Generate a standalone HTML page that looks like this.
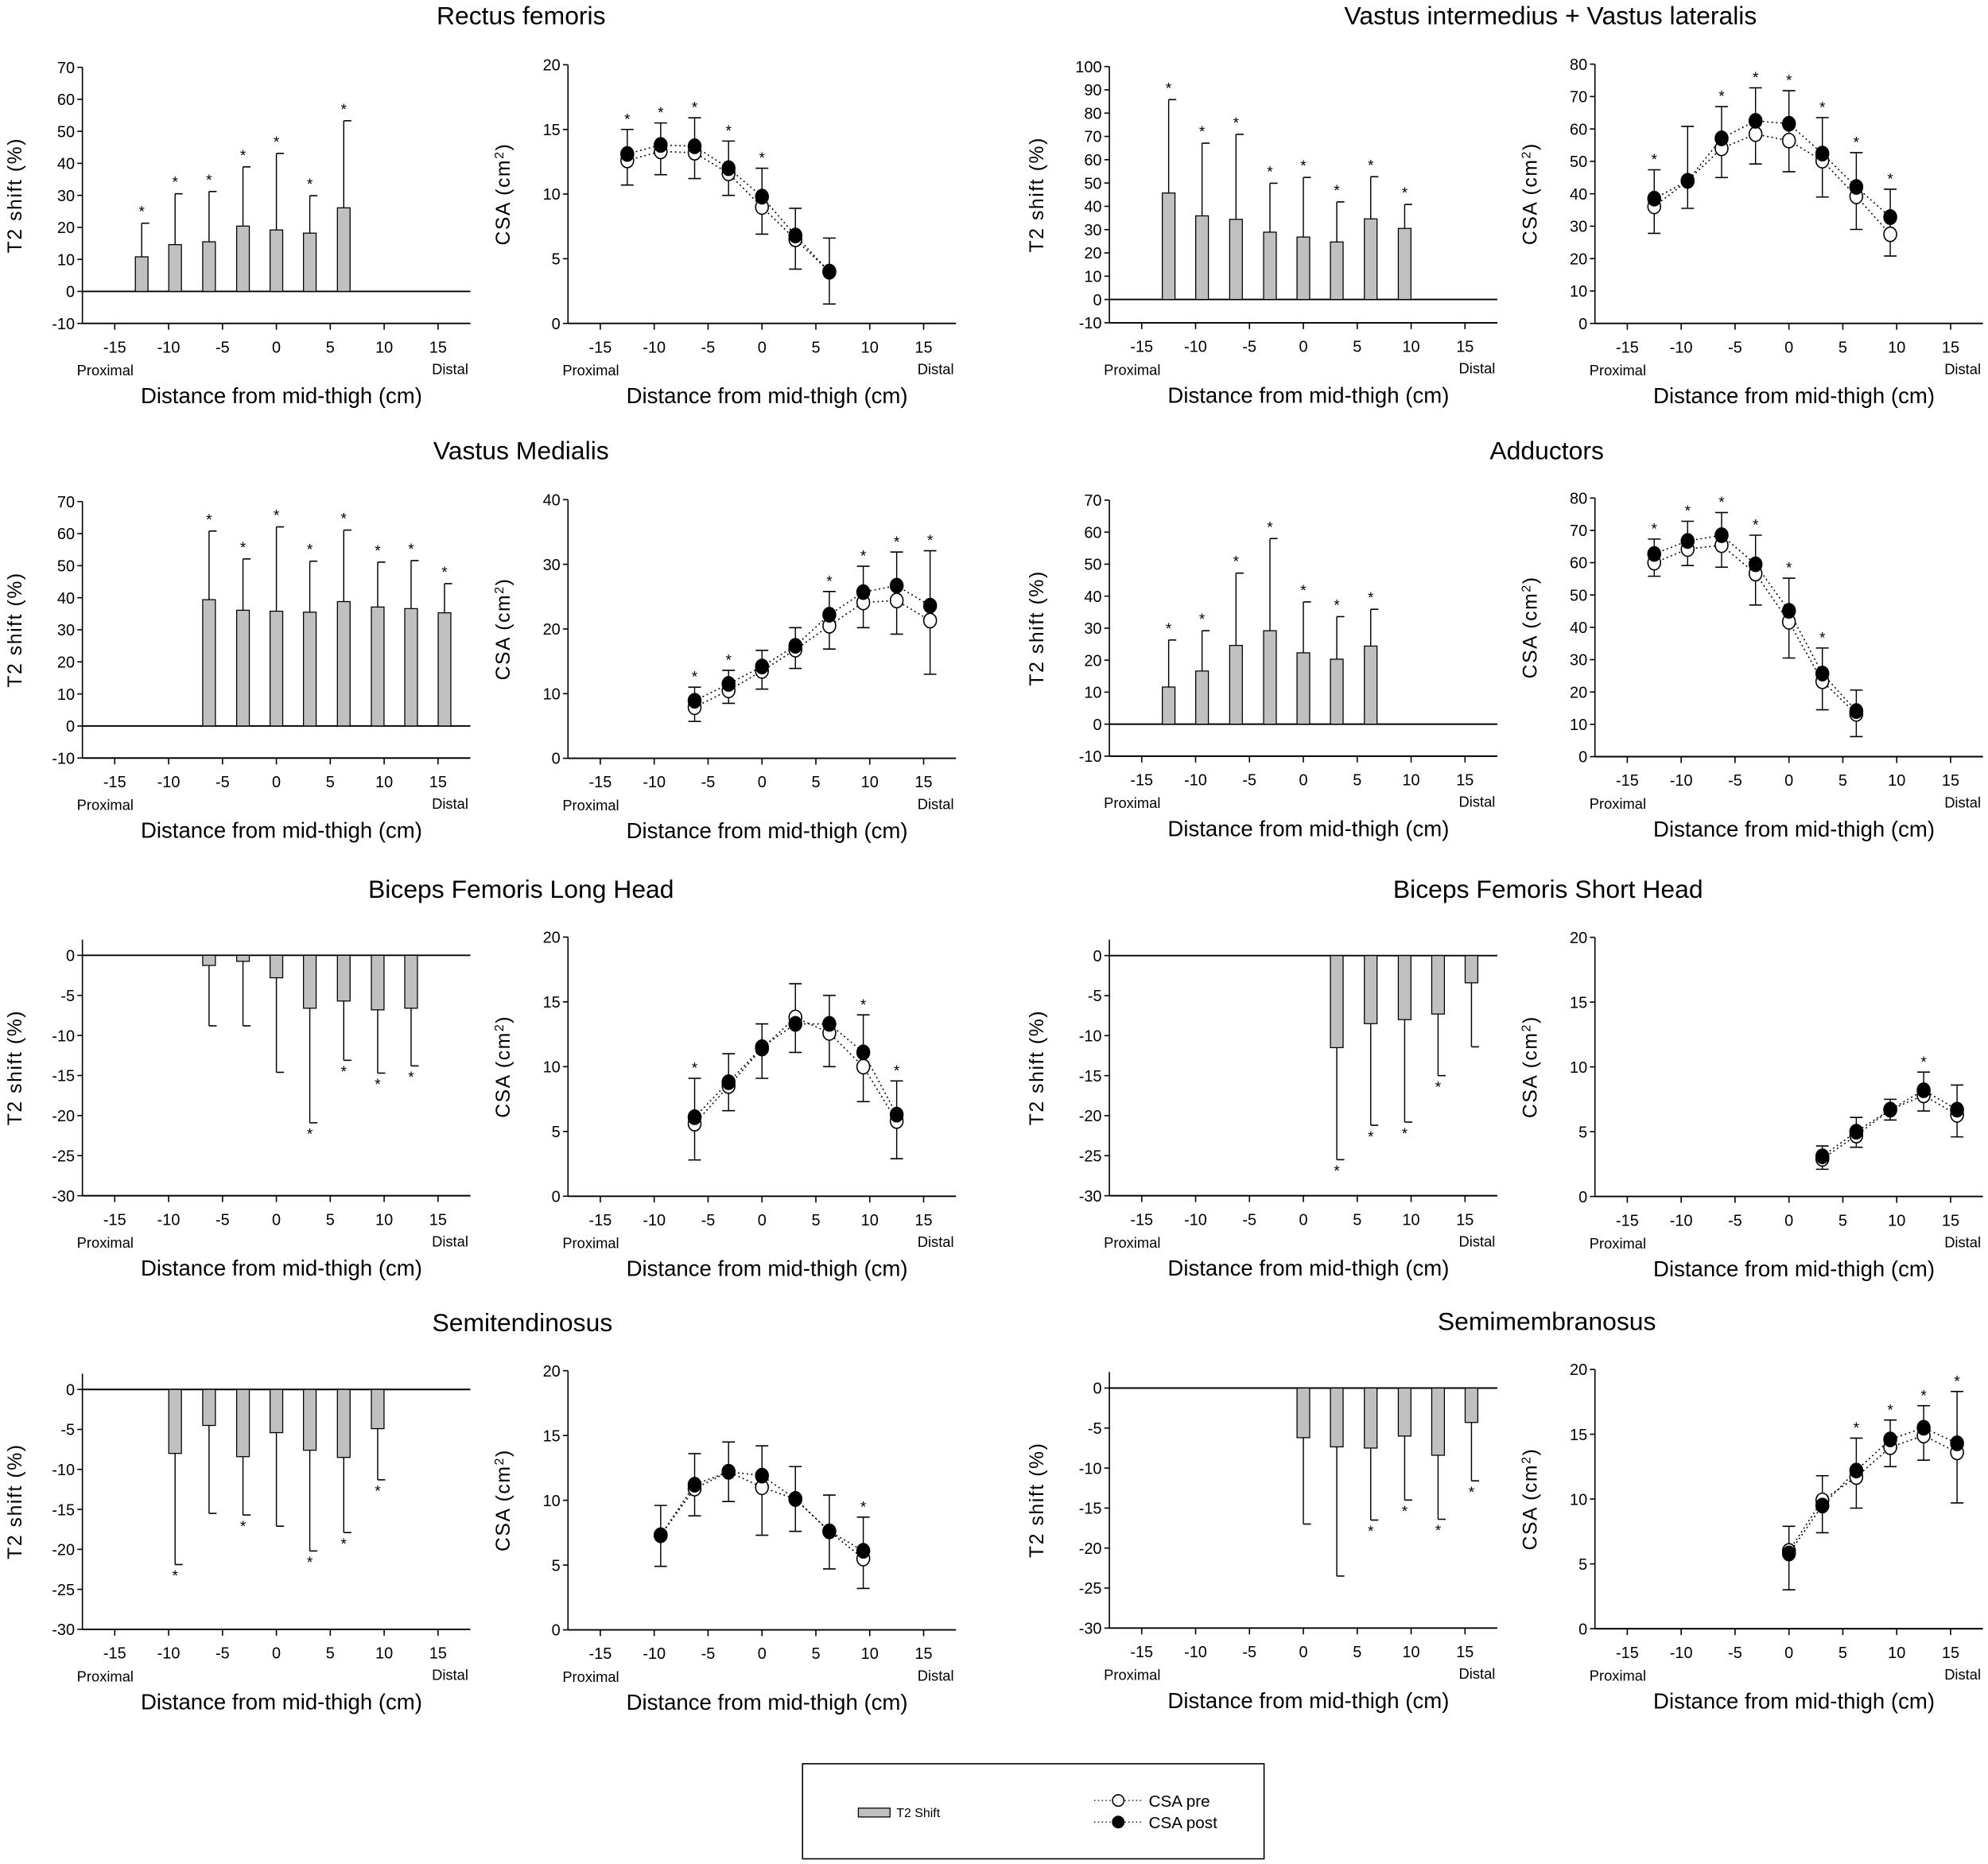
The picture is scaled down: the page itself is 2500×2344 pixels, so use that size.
<!DOCTYPE html>
<html><head><meta charset="utf-8">
<style>
html,body{margin:0;padding:0;background:#fff;}
svg{display:block;}
text{font-family:"Liberation Sans",Arial,sans-serif;fill:#000;}
</style></head>
<body>
<svg id="fig" xmlns="http://www.w3.org/2000/svg" width="2500" height="2344" viewBox="0 0 1568 1470">
<rect x="0" y="0" width="1568" height="1470" fill="#fff"/>
<g>
<rect x="633" y="1391" width="364" height="75" fill="none" stroke="#000" stroke-width="1"/>
<rect x="677" y="1426" width="25" height="7" fill="#c0c0c0" stroke="#000" stroke-width="0.8"/>
<text x="707" y="1433" font-size="10">T2 Shift</text>
<line x1="863" y1="1420" x2="900" y2="1420" stroke="#000" stroke-width="0.8" stroke-dasharray="1,2"/>
<circle cx="882" cy="1420" r="4.5" fill="#fff" stroke="#000"/>
<text x="906" y="1425" font-size="13">CSA pre</text>
<line x1="863" y1="1437" x2="900" y2="1437" stroke="#000" stroke-width="0.8" stroke-dasharray="1,2"/>
<circle cx="882" cy="1437" r="4.5" fill="#000" stroke="#000"/>
<text x="906" y="1442" font-size="13">CSA post</text>
</g>
</svg>
<script>
// ---------- data (distance from mid-thigh, cm) ----------
const xTickLabels = [-15,-10,-5,0,5,10,15];

// Rectus femoris
const rfT2X = [-12.5,-9.4,-6.25,-3.1,0,3.1,6.25];
const rfT2Val = [10.8,14.6,15.5,20.4,19.2,18.2,26.1];
const rfT2Err = [21.3,30.5,31.2,38.9,43.1,29.9,53.3];
const rfT2Star = [1,1,1,1,1,1,1];
const rfCsaX = [-12.5,-9.4,-6.25,-3.1,0,3.1,6.25];
const rfCsaPre = [12.6,13.3,13.2,11.6,9.0,6.5,4.0];
const rfCsaPost = [13.1,13.8,13.7,12.0,9.8,6.8,4.0];
const rfCsaHi = [15.0,15.5,15.9,14.1,12.0,8.9,6.6];
const rfCsaLo = [10.7,11.5,11.2,9.9,6.9,4.2,1.5];
const rfCsaStar = [1,1,1,1,1,0,0];

// Vastus intermedius + lateralis
const viT2X = [-12.5,-9.4,-6.25,-3.1,0,3.1,6.25,9.4];
const viT2Val = [45.7,35.9,34.4,28.9,26.8,24.7,34.6,30.5];
const viT2Err = [85.8,67.1,70.9,49.9,52.4,41.9,52.7,40.8];
const viT2Star = [1,1,1,1,1,1,1,1];
const viCsaX = [-12.5,-9.4,-6.25,-3.1,0,3.1,6.25,9.4];
const viCsaPre = [36.1,44.0,54.0,58.4,56.4,50.2,39.2,27.5];
const viCsaPost = [38.5,44.0,57.1,62.5,61.6,52.4,42.1,32.8];
const viCsaHi = [47.4,60.8,66.9,72.7,71.8,63.5,52.7,41.4];
const viCsaLo = [27.8,35.5,45.0,49.2,46.8,39.0,29.0,20.8];
const viCsaStar = [1,0,1,1,1,1,1,1];

// Vastus medialis
const vmT2X = [-6.25,-3.1,0,3.1,6.25,9.4,12.5,15.6];
const vmT2Val = [39.4,36.1,35.8,35.5,38.8,37.1,36.6,35.3];
const vmT2Err = [60.8,52.1,62.1,51.4,61.1,51.1,51.6,44.4];
const vmT2Star = [1,1,1,1,1,1,1,1];
const vmCsaX = [-6.25,-3.1,0,3.1,6.25,9.4,12.5,15.6];
const vmCsaPre = [7.9,10.5,13.5,16.8,20.5,24.1,24.4,21.3];
const vmCsaPost = [8.9,11.5,14.2,17.4,22.2,25.7,26.7,23.6];
const vmCsaHi = [11.0,13.6,16.7,20.2,25.8,29.7,31.9,32.1];
const vmCsaLo = [5.7,8.5,10.7,13.9,16.9,20.2,19.2,13.0];
const vmCsaStar = [1,1,0,0,1,1,1,1];

// Adductors
const adT2X = [-12.5,-9.4,-6.25,-3.1,0,3.1,6.25];
const adT2Val = [11.6,16.6,24.6,29.2,22.3,20.3,24.4];
const adT2Err = [26.3,29.2,47.2,58.0,38.2,33.6,35.9];
const adT2Star = [1,1,1,1,1,1,1];
const adCsaX = [-12.5,-9.4,-6.25,-3.1,0,3.1,6.25];
const adCsaPre = [60.0,64.2,65.4,56.6,41.7,23.3,13.2];
const adCsaPost = [62.7,66.7,68.5,59.5,45.1,25.7,14.1];
const adCsaHi = [67.3,72.8,75.5,68.5,55.2,33.6,20.6];
const adCsaLo = [55.8,59.1,58.6,46.9,30.5,14.5,6.2];
const adCsaStar = [1,1,1,1,1,1,0];

// Biceps femoris long head
const blT2X = [-6.25,-3.1,0,3.1,6.25,9.4,12.5];
const blT2Val = [-1.26,-0.75,-2.8,-6.6,-5.7,-6.8,-6.6];
const blT2Err = [-8.8,-8.8,-14.6,-20.9,-13.1,-14.7,-13.8];
const blT2Star = [0,0,0,1,1,1,1];
const blCsaX = [-6.25,-3.1,0,3.1,6.25,9.4,12.5];
const blCsaPre = [5.6,8.5,11.4,13.8,12.6,10.0,5.8];
const blCsaPost = [6.1,8.8,11.5,13.3,13.3,11.1,6.3];
const blCsaHi = [9.1,11.0,13.3,16.4,15.5,14.0,8.9];
const blCsaLo = [2.8,6.6,9.1,11.1,10.0,7.3,2.9];
const blCsaStar = [1,0,0,0,0,1,1];

// Biceps femoris short head
const bsT2X = [3.1,6.25,9.4,12.5,15.6];
const bsT2Val = [-11.5,-8.5,-8.0,-7.3,-3.4];
const bsT2Err = [-25.5,-21.2,-20.8,-15.0,-11.4];
const bsT2Star = [1,1,1,1,0];
const bsCsaX = [3.1,6.25,9.4,12.5,15.6];
const bsCsaPre = [2.9,4.7,6.7,7.8,6.3];
const bsCsaPost = [3.1,5.0,6.7,8.2,6.7];
const bsCsaHi = [3.9,6.1,7.5,9.6,8.6];
const bsCsaLo = [2.1,3.8,5.9,6.6,4.6];
const bsCsaStar = [0,0,0,1,0];

// Semitendinosus
const stT2X = [-9.4,-6.25,-3.1,0,3.1,6.25,9.4];
const stT2Val = [-8.0,-4.5,-8.4,-5.4,-7.6,-8.5,-4.9];
const stT2Err = [-21.9,-15.5,-15.7,-17.1,-20.2,-17.9,-11.3];
const stT2Star = [1,0,1,0,1,1,1];
const stCsaX = [-9.4,-6.25,-3.1,0,3.1,6.25,9.4];
const stCsaPre = [7.3,10.9,12.2,11.0,10.1,7.6,5.5];
const stCsaPost = [7.3,11.2,12.2,11.9,10.1,7.6,6.1];
const stCsaHi = [9.6,13.6,14.5,14.2,12.6,10.4,8.7];
const stCsaLo = [4.9,8.8,9.9,7.3,7.6,4.7,3.2];
const stCsaStar = [0,0,0,0,0,0,1];

// Semimembranosus
const smT2X = [0,3.1,6.25,9.4,12.5,15.6];
const smT2Val = [-6.2,-7.35,-7.5,-6.0,-8.4,-4.3];
const smT2Err = [-17.0,-23.5,-16.5,-14.0,-16.4,-11.6];
const smT2Star = [0,0,1,1,1,1];
const smCsaX = [0,3.1,6.25,9.4,12.5,15.6];
const smCsaPre = [6.0,9.9,11.7,14.0,14.9,13.6];
const smCsaPost = [5.8,9.5,12.2,14.6,15.5,14.3];
const smCsaHi = [7.9,11.8,14.7,16.1,17.2,18.3];
const smCsaLo = [3.0,7.4,9.3,12.5,13.0,9.7];
const smCsaStar = [0,0,1,1,1,1];

// ---------- drawing ----------
const NS = "http://www.w3.org/2000/svg";
const svg = document.getElementById("fig");
function mk(tag, parent, attrs){
  const e = document.createElementNS(NS, tag);
  for (const k in attrs) e.setAttribute(k, attrs[k]);
  parent.appendChild(e);
  return e;
}
function txt(parent, x, y, s, size, anchor){
  const t = mk("text", parent, {x:x, y:y, "font-size":size, "text-anchor":anchor||"middle"});
  t.textContent = s;
  return t;
}
function xScale(xL, xR){ return v => xL + (v + 18) * (xR - xL) / 36; }
function yScale(vMin, vMax, pBot, pTop){ return v => pBot - (v - vMin) * (pBot - pTop) / (vMax - vMin); }

function axes(g, sx, sy, xL, xR, yMin, yMax, yTop, yTickVals, yLabelX, isCsa){
  const yb = sy(yMin);
  const ya = mk("line", g, {x1:xL, y1:yTop, x2:xL, y2:yb, stroke:"#000", "stroke-width":1});
  
  
  const xa = mk("line", g, {x1:xL, y1:yb, x2:xR, y2:yb, stroke:"#000", "stroke-width":1.2});
  
  
  yTickVals.forEach(v => {
    const py = sy(v);
    mk("line", g, {x1:xL-4, y1:py, x2:xL, y2:py, stroke:"#000", "stroke-width":1});
    const t = txt(g, xL-6, py+4.5, String(v), 12.5, "end");
    
    
  });
  xTickLabels.forEach(v => {
    const px = sx(v);
    mk("line", g, {x1:px, y1:yb, x2:px, y2:yb+5, stroke:"#000", "stroke-width":1});
    const t = txt(g, px, yb+23, String(v), 12.5);
    
    
  });
  const p = txt(g, xL+18, yb+41, "Proximal", 11.5);
  
  
  const d = txt(g, xR-16, yb+40, "Distal", 11.5);
  
  
  const xt = txt(g, (xL+xR)/2+4, yb+63, "Distance from mid-thigh (cm)", 17.3);
  
  
  const cy = (yTop + yb)/2;
  const yt = mk("text", g, {x:0, y:0, "font-size":15.5, "text-anchor":"middle", "letter-spacing":"1",
    transform:"translate("+yLabelX+","+cy+") rotate(-90)"});
  
  
  if (isCsa){
    yt.appendChild(document.createTextNode("CSA (cm"));
    const sup = mk("tspan", yt, {"baseline-shift":"super", "font-size":"10"});
    sup.textContent = "2";
    const t2 = mk("tspan", yt, {});
    t2.textContent = ")";
  } else {
    yt.textContent = "T2 shift (%)";
  }
}

function drawT2(name, cfg, xs, vals, errs, stars){
  const g = mk("g", svg, {});
  
  
  const sx = xScale(cfg.xL, cfg.xR);
  const sy = yScale(cfg.yMin, cfg.yMax, cfg.pBot, cfg.pTop);
  axes(g, sx, sy, cfg.xL, cfg.xR, cfg.yMin, cfg.yMax, cfg.axisTop, cfg.ticks, cfg.labX, false);
  const zl = mk("line", g, {x1:cfg.xL, y1:sy(0), x2:cfg.xR, y2:sy(0), stroke:"#000", "stroke-width":1.2});
  
  
  xs.forEach((x, i) => {
    const px = sx(x), p0 = sy(0), pv = sy(vals[i]), pe = sy(errs[i]);
    const el = mk("line", g, {x1:px, y1:pv, x2:px, y2:pe, stroke:"#000", "stroke-width":0.9});
    
    
    mk("line", g, {x1:px, y1:pe, x2:px+6, y2:pe, stroke:"#000", "stroke-width":1});
    const b = mk("rect", g, {x:px-5, y:Math.min(p0,pv), width:10, height:Math.abs(pv-p0), fill:"#c0c0c0", stroke:"#000", "stroke-width":0.8});
    
    
    if (stars[i]){
      const sy2 = vals[i] >= 0 ? pe - 5 : pe + 13;
      const s = txt(g, px, sy2, "*", 12);
      
      
    }
  });
}

function drawCsa(name, cfg, xs, pre, post, hi, lo, stars){
  const g = mk("g", svg, {});
  
  
  const sx = xScale(cfg.xL, cfg.xR);
  const sy = yScale(0, cfg.yMax, cfg.pBot, cfg.pTop);
  axes(g, sx, sy, cfg.xL, cfg.xR, 0, cfg.yMax, cfg.pTop, cfg.ticks, cfg.labX, true);
  xs.forEach((x, i) => {
    const px = sx(x);
    const el = mk("line", g, {x1:px, y1:sy(hi[i]), x2:px, y2:sy(lo[i]), stroke:"#000", "stroke-width":0.9});
    
    
    mk("line", g, {x1:px-5, y1:sy(hi[i]), x2:px+5, y2:sy(hi[i]), stroke:"#000", "stroke-width":1});
    mk("line", g, {x1:px-5, y1:sy(lo[i]), x2:px+5, y2:sy(lo[i]), stroke:"#000", "stroke-width":1});
    if (stars[i]){
      const s = txt(g, px, sy(hi[i]) - 4, "*", 12);
      
      
    }
  });
  const mkLine = (arr, nm) => {
    const pts = xs.map((x, i) => sx(x) + "," + sy(arr[i])).join(" ");
    const l = mk("polyline", g, {points:pts, fill:"none", stroke:"#000", "stroke-width":1, "stroke-dasharray":"1.2,2.3"});
    
    
  };
  mkLine(pre, 'csa-pre-line');
  mkLine(post, 'csa-post-line');
  xs.forEach((x, i) => {
    const c = mk("ellipse", g, {cx:sx(x), cy:sy(pre[i]), rx:5, ry:5.7, fill:"#fff", stroke:"#000", "stroke-width":1});
    
    
  });
  xs.forEach((x, i) => {
    const c = mk("ellipse", g, {cx:sx(x), cy:sy(post[i]), rx:5, ry:5.7, fill:"#000", stroke:"#000", "stroke-width":1});
    
    
  });
}

function title(s, x, y){
  const t = txt(svg, x, y, s, 20);
  
  
}

const LT = {xL:65, xR:371, labX:17};
const LC = {xL:448, xR:754, labX:402};
const RT = {xL:875, xR:1181, labX:823};
const RC = {xL:1258, xR:1564, labX:1212};
function cfg(base, extra){ return Object.assign({}, base, extra); }
const t70 = [-10,0,10,20,30,40,50,60,70];
const tNeg = [-30,-25,-20,-15,-10,-5,0];

// Row 1
title("Rectus femoris", 411, 19);
title("Vastus intermedius + Vastus lateralis", 1223, 19);
drawT2("rectus-femoris", cfg(LT,{yMin:-10,yMax:70,pBot:255,pTop:53,axisTop:53,ticks:t70}), rfT2X, rfT2Val, rfT2Err, rfT2Star);
drawCsa("rectus-femoris", cfg(LC,{yMax:20,pBot:255,pTop:51,ticks:[0,5,10,15,20]}), rfCsaX, rfCsaPre, rfCsaPost, rfCsaHi, rfCsaLo, rfCsaStar);
drawT2("vastus-intermedius-lateralis", cfg(RT,{yMin:-10,yMax:100,pBot:254.5,pTop:52.4,axisTop:52.4,ticks:[-10,0,10,20,30,40,50,60,70,80,90,100]}), viT2X, viT2Val, viT2Err, viT2Star);
drawCsa("vastus-intermedius-lateralis", cfg(RC,{yMax:80,pBot:255,pTop:50.5,ticks:[0,10,20,30,40,50,60,70,80]}), viCsaX, viCsaPre, viCsaPost, viCsaHi, viCsaLo, viCsaStar);

// Row 2
title("Vastus Medialis", 411, 362);
title("Adductors", 1220, 362);
drawT2("vastus-medialis", cfg(LT,{yMin:-10,yMax:70,pBot:597.8,pTop:395.5,axisTop:395.5,ticks:t70}), vmT2X, vmT2Val, vmT2Err, vmT2Star);
drawCsa("vastus-medialis", cfg(LC,{yMax:40,pBot:598,pTop:394,ticks:[0,10,20,30,40]}), vmCsaX, vmCsaPre, vmCsaPost, vmCsaHi, vmCsaLo, vmCsaStar);
drawT2("adductors", cfg(RT,{yMin:-10,yMax:70,pBot:596.3,pTop:394.4,axisTop:394.4,ticks:t70}), adT2X, adT2Val, adT2Err, adT2Star);
drawCsa("adductors", cfg(RC,{yMax:80,pBot:596.7,pTop:392.7,ticks:[0,10,20,30,40,50,60,70,80]}), adCsaX, adCsaPre, adCsaPost, adCsaHi, adCsaLo, adCsaStar);

// Row 3
title("Biceps Femoris Long Head", 411, 708);
title("Biceps Femoris Short Head", 1221, 708);
drawT2("biceps-femoris-long-head", cfg(LT,{yMin:-30,yMax:0,pBot:943,pTop:753.4,axisTop:741,ticks:tNeg}), blT2X, blT2Val, blT2Err, blT2Star);
drawCsa("biceps-femoris-long-head", cfg(LC,{yMax:20,pBot:943.4,pTop:739,ticks:[0,5,10,15,20]}), blCsaX, blCsaPre, blCsaPost, blCsaHi, blCsaLo, blCsaStar);
drawT2("biceps-femoris-short-head", cfg(RT,{yMin:-30,yMax:0,pBot:943,pTop:753.6,axisTop:741,ticks:tNeg}), bsT2X, bsT2Val, bsT2Err, bsT2Star);
drawCsa("biceps-femoris-short-head", cfg(RC,{yMax:20,pBot:943.6,pTop:739.2,ticks:[0,5,10,15,20]}), bsCsaX, bsCsaPre, bsCsaPost, bsCsaHi, bsCsaLo, bsCsaStar);

// Row 4
title("Semitendinosus", 412, 1050);
title("Semimembranosus", 1220, 1049);
drawT2("semitendinosus", cfg(LT,{yMin:-30,yMax:0,pBot:1285,pTop:1095.8,axisTop:1083.3,ticks:tNeg}), stT2X, stT2Val, stT2Err, stT2Star);
drawCsa("semitendinosus", cfg(LC,{yMax:20,pBot:1285.4,pTop:1081,ticks:[0,5,10,15,20]}), stCsaX, stCsaPre, stCsaPost, stCsaHi, stCsaLo, stCsaStar);
drawT2("semimembranosus", cfg(RT,{yMin:-30,yMax:0,pBot:1284,pTop:1094.7,axisTop:1082,ticks:tNeg}), smT2X, smT2Val, smT2Err, smT2Star);
drawCsa("semimembranosus", cfg(RC,{yMax:20,pBot:1284.5,pTop:1080,ticks:[0,5,10,15,20]}), smCsaX, smCsaPre, smCsaPost, smCsaHi, smCsaLo, smCsaStar);
</script>
</body></html>
